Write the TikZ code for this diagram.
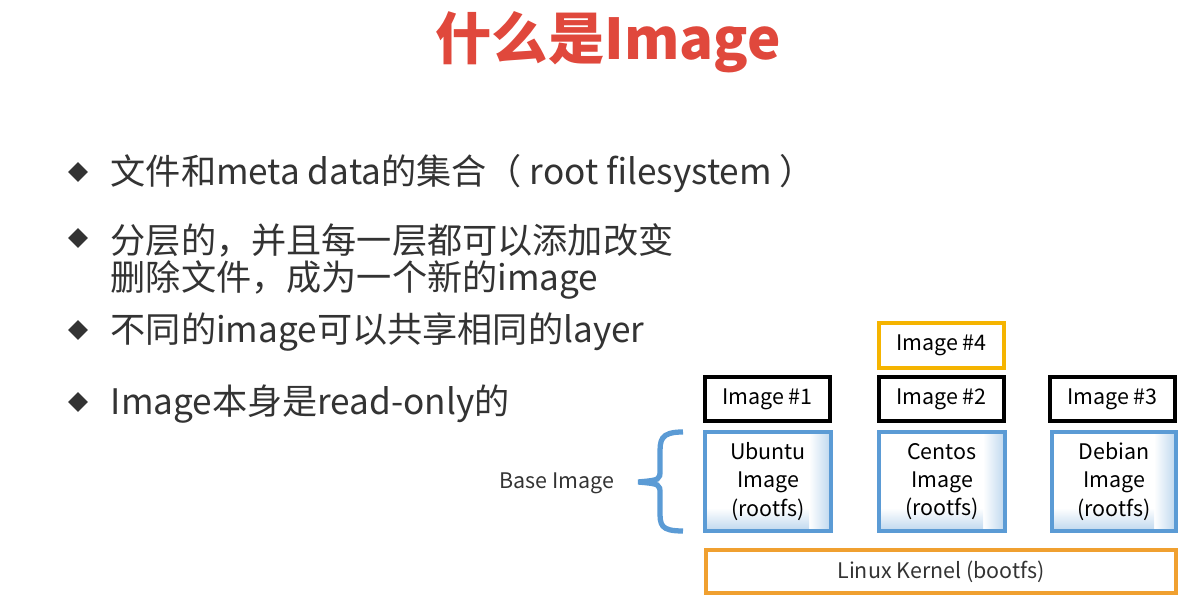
\documentclass[tikz,border=0pt]{standalone}
\usepackage{fontspec}
\setmainfont{Noto Sans CJK SC}
\definecolor{ttl}{HTML}{E0483C}
\definecolor{bl}{HTML}{5B9BD5}
\definecolor{og}{HTML}{F0A030}
\definecolor{yl}{HTML}{F5B400}
\definecolor{tx}{HTML}{333333}
\begin{document}
\begin{tikzpicture}[x=0.01cm,y=-0.01cm,
  bul/.style={anchor=west,text=tx,font=\fontsize{10pt}{12pt}\selectfont,inner sep=0},
  dia/.style={fill=tx,minimum size=0.14cm,rotate=45,inner sep=0},
  lbl/.style={font=\fontsize{6.1pt}{8pt}\selectfont,align=center,text=black},
  blk/.style={draw=black,line width=1.1pt,lbl},
  base/.style={draw=bl,line width=1.3pt,lbl}]
\useasboundingbox (0,0) rectangle (1199,607);
\node[text=ttl,font=\fontsize{16pt}{18pt}\selectfont\bfseries] (title) at (608,42) {什么是Image};
\node[dia] (d1) at (78,172) {}; \node[bul] (t1) at (110,174) {文件和meta data的集合（ root filesystem ）};
\node[dia] (d2) at (78,238) {}; \node[bul] (t2) at (110,240) {分层的，并且每一层都可以添加改变};
\node[bul] (t2b) at (110,280) {删除文件，成为一个新的image};
\node[dia] (d3) at (78,330) {}; \node[bul] (t3) at (110,332) {不同的image可以共享相同的layer};
\node[dia] (d4) at (78,402) {}; \node[bul] (t4) at (110,404) {Image本身是read-only的};
\path[draw=yl,line width=1.3pt] (879,323) rectangle (1004,368) node[midway,lbl] (i4) {Image \#4};
\path[blk] (705,377) rectangle (830,421) node[midway,lbl] (i1) {Image \#1};
\path[blk] (879,377) rectangle (1004,421) node[midway,lbl] (i2) {Image \#2};
\path[blk] (1050,377) rectangle (1175,421) node[midway,lbl] (i3) {Image \#3};
\foreach \a/\b/\n/\t in {705/831/u/Ubuntu,879/1005/c/Centos,1052/1176/d/Debian}{
  \shade[left color=white,right color=bl!40] (\b-22,432) rectangle (\b,531);
  \shade[top color=white,bottom color=bl!40] (\a,508) rectangle (\b-22,531);
  \path[base] (\a,432) rectangle (\b,531) node[midway,lbl] (\n) {\t\\Image\\(rootfs)};
}
\path[draw=og,line width=1.3pt] (706,550) rectangle (1176,593) node[midway,lbl,text=tx] (k) {Linux Kernel (bootfs)};
\draw[bl,line width=1.5pt] (683,432) .. controls (660,432) and (660,440) .. (660,455) -- (660,470) .. controls (660,480) .. (638,482)
  .. controls (660,484) .. (660,494) -- (660,510) .. controls (660,525) and (660,531) .. (683,531);
\node[lbl,text=tx] (bi) at (557,483) {Base Image};
\end{tikzpicture}
\end{document}
